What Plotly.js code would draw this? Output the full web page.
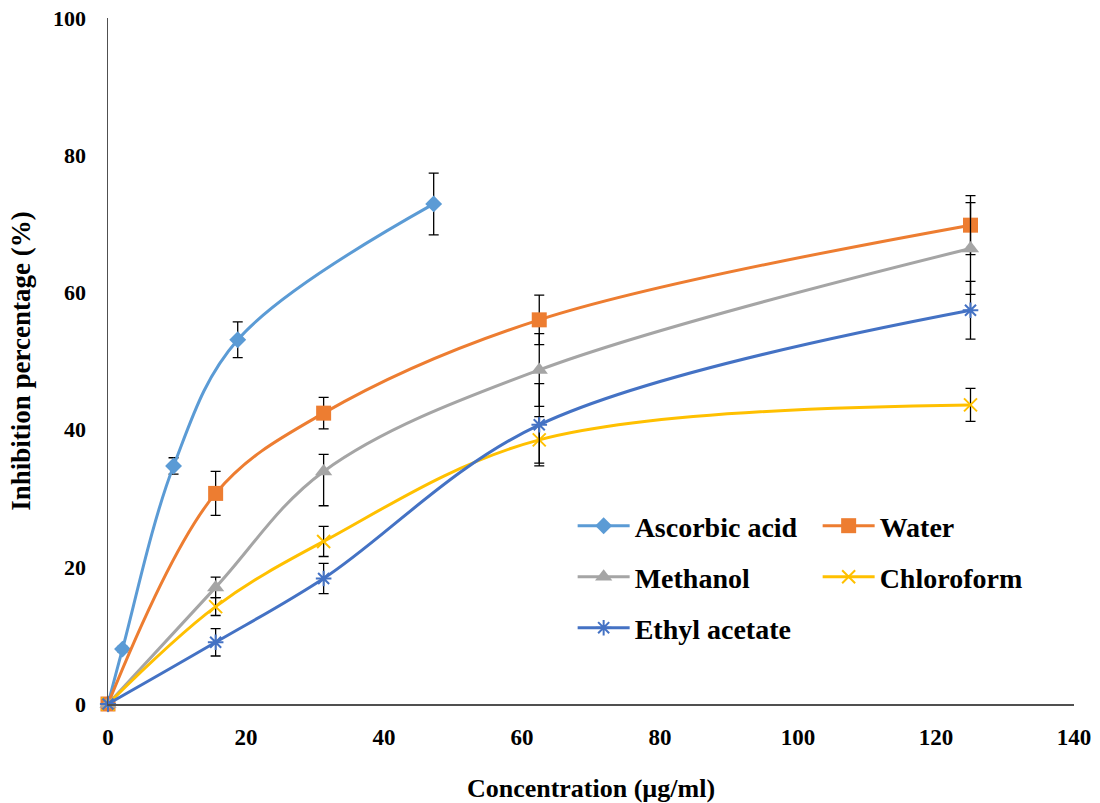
<!DOCTYPE html>
<html>
<head>
<meta charset="utf-8">
<script src="https://cdn.plot.ly/plotly-3.0.1.min.js"></script>
<style>html,body{margin:0;padding:0;background:#fff;}#chart{width:1100px;height:803px;}</style>
</head>
<body>
<div id="chart"></div>
<script>
// ---- data ----
var concAscorbic = [0, 2.1, 9.5, 18.8, 47.2];
var concExtract = [0, 15.6, 31.25, 62.5, 125];

var ascorbic = [0, 8.0, 34.7, 53.1, 72.9];
var ascorbicErr = [0, 0.4, 1.2, 2.6, 4.5];

var water = [0, 30.7, 42.4, 56.0, 69.8];
var waterErr = [0, 3.2, 2.3, 3.6, 4.3];

var methanol = [0, 17.0, 33.9, 48.7, 66.4];
var methanolErrPlus = [0, 1.5, 2.5, 5.3, 6.7];
var methanolErrMinus = [0, 1.5, 5.0, 5.3, 6.7];

var chloroform = [0, 14.2, 23.7, 38.5, 43.6];
var chloroformErr = [0, 1.3, 2.2, 3.4, 2.4];

var ethyl = [0, 9.0, 18.3, 40.7, 57.4];
var ethylErr = [0, 2.0, 2.2, 6.0, 4.2];

var xTicks = [0, 20, 40, 60, 80, 100, 120, 140];
var yTicks = [0, 20, 40, 60, 80, 100];

var FONT = "'Liberation Serif', 'Times New Roman', serif";

function errObj(plus, minus) {
  var o = {type: 'data', array: plus, visible: true, color: '#000000', thickness: 1.3, width: 5};
  if (minus) { o.symmetric = false; o.arrayminus = minus; }
  return o;
}

function trace(name, x, y, color, symbol, size, err, legend, extraMarker) {
  var m = {color: color, symbol: symbol, size: size};
  if (extraMarker) { m.line = {color: color, width: 2}; }
  return {
    type: 'scatter', mode: 'lines+markers', name: name, x: x, y: y,
    line: {color: color, width: 3, shape: 'spline', smoothing: 1},
    marker: m, error_y: err, cliponaxis: false, legend: legend
  };
}

var data = [
  trace('Ascorbic acid', concAscorbic, ascorbic, '#5B9BD5', 'diamond', 13, errObj(ascorbicErr), 'legend'),
  trace('Water', concExtract, water, '#ED7D31', 'square', 15, errObj(waterErr), 'legend'),
  trace('Methanol', concExtract, methanol, '#A5A5A5', 'triangle-up', 15, errObj(methanolErrPlus, methanolErrMinus), 'legend2'),
  trace('Chloroform', concExtract, chloroform, '#FFC000', 'x-thin-open', 13, errObj(chloroformErr), 'legend2', true),
  trace('Ethyl acetate', concExtract, ethyl, '#4472C4', 'asterisk-open', 13, errObj(ethylErr), 'legend3', true)
];

function leg(y) {
  return {
    orientation: 'h', x: 0.481, xanchor: 'left', y: y, yanchor: 'middle',
    font: {family: FONT, size: 28, color: '#000', weight: 'bold'},
    itemwidth: 52, entrywidth: 178, entrywidthmode: 'pixels',
    bgcolor: 'rgba(0,0,0,0)', traceorder: 'normal'
  };
}

var layout = {
  width: 1100, height: 803,
  margin: {l: 108, r: 26, t: 18, b: 99},
  paper_bgcolor: '#ffffff', plot_bgcolor: '#ffffff',
  font: {family: FONT, color: '#000'},
  showlegend: true,
  xaxis: {
    range: [0, 140], tickvals: xTicks, ticktext: xTicks.map(String),
    showgrid: false, zeroline: false, showline: true, linecolor: '#505050', linewidth: 1.5,
    ticks: '', ticklabelstandoff: 12,
    tickfont: {family: FONT, size: 23, color: '#000', weight: 'bold'},
    title: {text: 'Concentration (µg/ml)', font: {family: FONT, size: 26, color: '#000', weight: 'bold'}, standoff: 30}
  },
  yaxis: {
    range: [0, 100], tickvals: yTicks, ticktext: yTicks.map(String),
    showgrid: false, zeroline: false, showline: true, linecolor: '#505050', linewidth: 1.5,
    ticks: '', ticklabelstandoff: 16,
    tickfont: {family: FONT, size: 22, color: '#000', weight: 'bold'},
    title: {text: 'Inhibition percentage (%)', font: {family: FONT, size: 27, color: '#000', weight: 'bold'}, standoff: 14}
  },
  legend: leg(0.2595),
  legend2: leg(0.1851),
  legend3: leg(0.1108)
};

Plotly.newPlot('chart', data, layout, {displayModeBar: false, staticPlot: true});
</script>
</body>
</html>
